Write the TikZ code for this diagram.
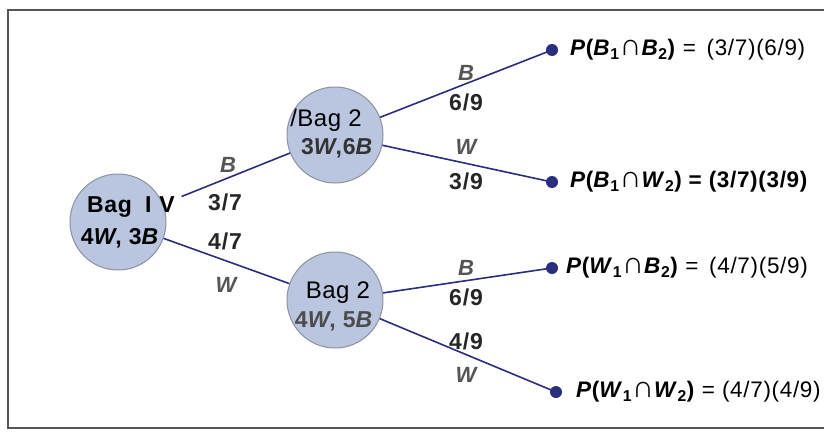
\documentclass[tikz,border=0pt]{standalone}
\usepackage{fontspec}
\setmainfont{Liberation Sans}
\definecolor{navy}{HTML}{2B2D7E}
\definecolor{bagfill}{HTML}{BAC6E0}
\definecolor{bagedge}{HTML}{8C90A2}
\definecolor{framec}{HTML}{555555}
\definecolor{lettc}{HTML}{555555}
\newcommand{\capsym}{\scalebox{1.35}{∩}}
\tikzset{
 bag/.style={circle, draw=bagedge, fill=bagfill, line width=1pt, minimum size=96pt, inner sep=0pt},
 bagtxt/.style={inner sep=0pt, font=\fontsize{24}{26}\selectfont\addfontfeature{LetterSpace=2}},
 bagbold/.style={inner sep=0pt, font=\fontsize{23}{26}\selectfont\bfseries\addfontfeature{LetterSpace=3}},
 branch/.style={draw=navy, line width=1.6pt},
 leaf/.style={circle, fill=navy, minimum size=12pt, inner sep=0pt},
 prob/.style={font=\fontsize{23}{24}\selectfont\bfseries\addfontfeature{LetterSpace=4}, text=black!85},
 letter/.style={font=\fontsize{22}{24}\selectfont\bfseries\itshape, text=lettc},
 result/.style={anchor=west, font=\fontsize{22.5}{24}\selectfont\addfontfeature{LetterSpace=3}, inner sep=0pt},
 framel/.style={draw=framec, line width=1.2pt}
}
\begin{document}
\begin{tikzpicture}[x=1pt,y=-1pt]
\useasboundingbox (0,0) rectangle (824,434);
\draw[framel] (824,10) -- (8,10) -- (8,428) -- (824,428);
% bags
\node[bag] (b1) at (118,222) {};
\node[bag] (b2t) at (335,135) {};
\node[bag] (b2b) at (335,300) {};
% branches
\draw[branch, shorten <=20pt] (b1) -- (b2t);
\draw[branch] (b1) -- (b2b);
% bag texts
\node[bagbold, anchor=west] (b1a) at (87,207) {Bag\hspace{13pt}I\hspace{8pt}V};
\node[bagbold] (b1b) at (120,238) {4\textit{W}, 3\textit{B}};
\node[bagtxt] (b2ta) at (326,120) {/Bag 2};
\node[bagbold, text=black!80] (b2tb) at (337,148) {3\textit{W},6\textit{B}};
\node[bagtxt] (b2ba) at (338,293) {Bag 2};
\node[bagbold, text=black!70] (b2bb) at (334,321) {4\textit{W}, 5\textit{B}};
% leaves
\node[leaf] (l1) at (552,50) {};
\node[leaf] (l2) at (552,182) {};
\node[leaf] (l3) at (552,268) {};
\node[leaf] (l4) at (556,392) {};
\draw[branch] (b2t) -- (l1.center);
\draw[branch] (b2t) -- (l2.center);
\draw[branch] (b2b) -- (l3.center);
\draw[branch] (b2b) -- (l4.center);
% branch labels
\node[letter] (tb1) at (228,165) {B};
\node[prob] (p37) at (225,202) {3/7};
\node[prob] (p47) at (225,241) {4/7};
\node[letter] (tw1) at (226,285) {W};
\node[letter] (tb2) at (466,73) {B};
\node[prob] (p69a) at (466,102) {6/9};
\node[letter] (tw2) at (466,147) {W};
\node[prob] (p39) at (466,181) {3/9};
\node[letter] (tb3) at (466,268) {B};
\node[prob] (p69b) at (466,297) {6/9};
\node[prob] (p49) at (466,341) {4/9};
\node[letter] (tw3) at (466,375) {W};
% results
\node[result] (r1) at (570,50) {\textbf{\textit{P}(\textit{B}\textsubscript{1}\capsym\textit{B}\textsubscript{2})} = \,(3/7)(6/9)};
\node[result] (r2) at (570,182) {\textbf{\textit{P}(\textit{B}\textsubscript{1}\capsym\textit{W}\textsubscript{2}) = (3/7)(3/9)}};
\node[result] (r3) at (566,268) {\textbf{\textit{P}(\textit{W}\textsubscript{1}\capsym\textit{B}\textsubscript{2})} = \,(4/7)(5/9)};
\node[result] (r4) at (576,392) {\textbf{\textit{P}(\textit{W}\textsubscript{1}\capsym\textit{W}\textsubscript{2})} = (4/7)(4/9)};
\end{tikzpicture}
\end{document}
